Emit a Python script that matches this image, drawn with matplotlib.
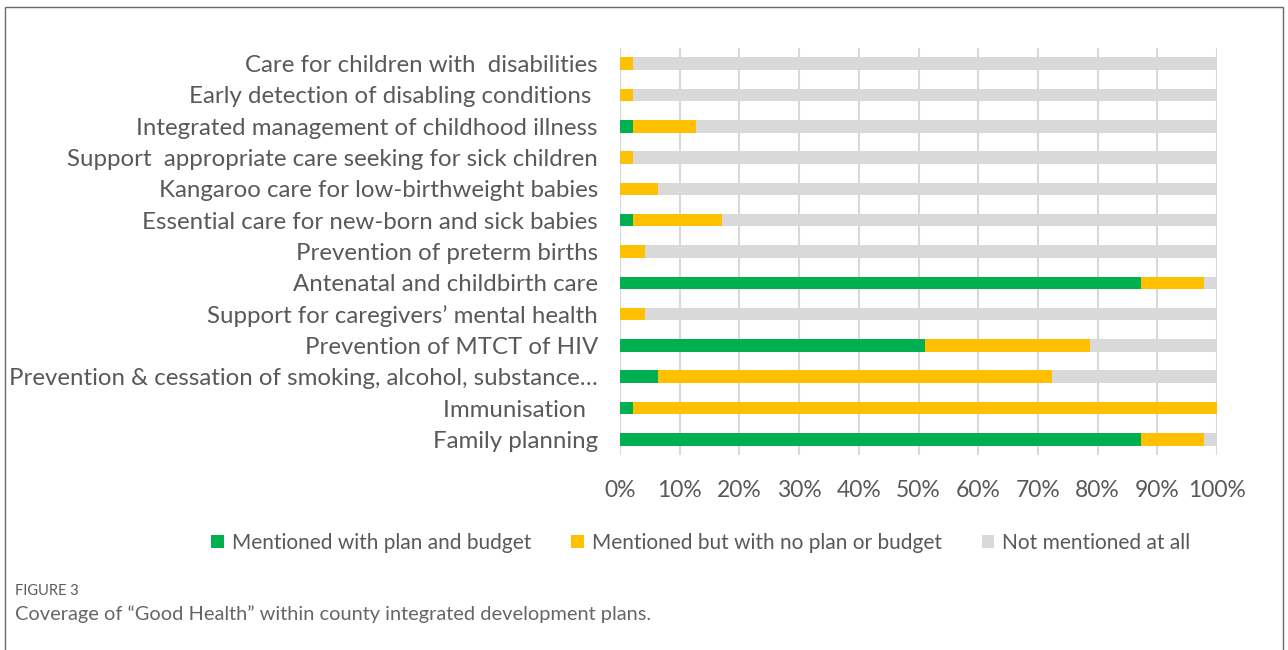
import numpy as np
import matplotlib.pyplot as plt
from matplotlib.patches import Rectangle

# counties (out of 47) for each service area, listed top to bottom
categories = [
    "Care for children with  disabilities",
    "Early detection of disabling conditions ",
    "Integrated management of childhood illness",
    "Support  appropriate care seeking for sick children",
    "Kangaroo care for low-birthweight babies",
    "Essential care for new-born and sick babies",
    "Prevention of preterm births",
    "Antenatal and childbirth care",
    "Support for caregivers\u2019 mental health",
    "Prevention of MTCT of HIV",
    "Prevention & cessation of smoking, alcohol, substance\u2026",
    "Immunisation  ",
    "Family planning",
]
with_plan = [0, 0, 1, 0, 0, 1, 0, 41, 0, 24, 3, 1, 41]
no_plan = [1, 1, 5, 1, 3, 7, 2, 5, 2, 13, 31, 46, 5]
not_mentioned = [46, 46, 41, 46, 44, 39, 45, 1, 45, 10, 13, 0, 1]
series_names = ["Mentioned with plan and budget",
                "Mentioned but with no plan or budget",
                "Not mentioned at all"]
colors = ["#00B050", "#FFC000", "#D9D9D9"]

counts = np.array([with_plan, no_plan, not_mentioned], dtype=float)
shares = counts / counts.sum(axis=0) * 100

plt.rcParams['font.family'] = ['Lato', 'DejaVu Sans']
text_col = "#595959"

fig = plt.figure(figsize=(12.88, 6.5), dpi=100)
ax = fig.add_axes([620 / 1288, 1 - 455 / 650, 597 / 1288, 407 / 650])

y = np.arange(len(categories))[::-1]
left = np.zeros(len(categories))
for vals, name, col in zip(shares, series_names, colors):
    ax.barh(y, vals, left=left, height=0.4, color=col, label=name, zorder=3)
    left += vals

ax.set_xlim(0, 100)
ax.set_ylim(-0.5, len(categories) - 0.5)
ax.set_xticks(np.arange(0, 101, 10))
ax.set_xticklabels([f"{t}%" for t in range(0, 101, 10)])
ax.set_yticks(y)
ax.set_yticklabels(categories)
ax.grid(axis='x', color="#D9D9D9", linewidth=1.5, zorder=0)
ax.tick_params(length=0, colors=text_col)
ax.tick_params(axis='y', labelsize=17.3, pad=16)
ax.tick_params(axis='x', labelsize=16.5, pad=18)
for s in ax.spines.values():
    s.set_visible(False)

fig.legend(loc='center', bbox_to_anchor=(701 / 1288, 1 - 543 / 650), ncol=3,
           frameon=False, fontsize=15, handlelength=0.6, handleheight=0.6,
           handletextpad=0.4, columnspacing=1.9, labelcolor=text_col)

fig.text(15 / 1288, 1 - 591 / 650, "FIGURE 3", fontsize=10.5, color="#5a5a5a",
         va='center')
fig.text(15 / 1288, 1 - 614 / 650,
         "Coverage of \u201cGood Health\u201d within county integrated development plans.",
         fontsize=14.4, color="#666666", va='center')

# thin frame round the figure panel
fig.patches.append(Rectangle((5 / 1288, -0.01), 1278 / 1288, 1.0 - 7 / 650 + 0.01,
                             transform=fig.transFigure, fill=False,
                             edgecolor="#6a6a6a", linewidth=1))

fig.savefig("out.png", dpi=100)
